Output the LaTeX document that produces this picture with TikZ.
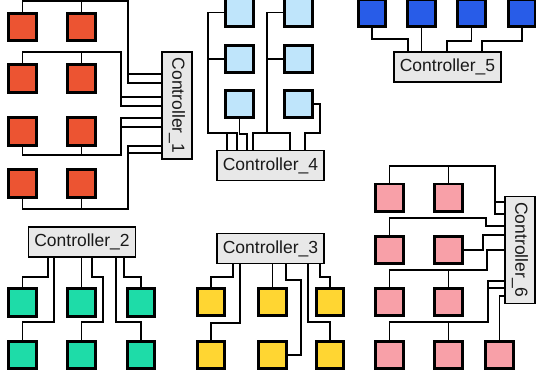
\documentclass[tikz,border=0pt]{standalone}
\usepackage{fontspec}
\usepackage{graphicx}
\setmainfont{Liberation Sans}
\definecolor{ctrlgray}{RGB}{232,232,232}
\definecolor{corange}{RGB}{236,84,50}
\definecolor{clblue}{RGB}{191,229,251}
\definecolor{cblue}{RGB}{40,92,232}
\definecolor{cgreen}{RGB}{30,220,168}
\definecolor{cyellow}{RGB}{255,214,50}
\definecolor{cpink}{RGB}{248,160,168}
\definecolor{ctext}{RGB}{25,25,25}
\begin{document}
\begin{tikzpicture}[x=1pt,y=-1pt,
  sq/.style={draw=black,line width=2.9pt,minimum size=27.6pt,inner sep=0pt,fill=#1},
  ctrl/.style={draw=black,line width=1.8pt,fill=ctrlgray,minimum width=107pt,minimum height=30pt,inner sep=0pt,text=ctext,font=\fontsize{17.5}{20}\selectfont},
  vctrl/.style={ctrl,minimum width=30pt,minimum height=107pt},
  wire/.style={draw=black,line width=1.5pt}]
\useasboundingbox (0,0) rectangle (536,379);

% Group 1 (orange)
\foreach \r/\yy in {1/27,2/78.7,3/131.7,4/183.3}{
  \node[sq=corange] (o\r1) at (22.5,\yy) {};
  \node[sq=corange] (o\r2) at (81.7,\yy) {};
}
\node[vctrl] (c1) at (177,105.5) {\rotatebox{-90}{Controller\_1}};

% Group 4 (light blue)
\foreach \r/\yy in {1/12.5,2/59,3/104}{
  \node[sq=clblue] (b\r1) at (239.5,\yy) {};
  \node[sq=clblue] (b\r2) at (298.3,\yy) {};
}
\node[ctrl] (c4) at (270.5,165.5) {Controller\_4};

% Group 5 (blue)
\node[sq=cblue] (s1) at (372,13) {};
\node[sq=cblue] (s2) at (421.5,13) {};
\node[sq=cblue] (s3) at (471.5,13) {};
\node[sq=cblue] (s4) at (522,13) {};
\node[ctrl] (c5) at (447.5,67) {Controller\_5};

% Group 2 (green)
\foreach \r/\yy in {1/302.5,2/355}{
  \node[sq=cgreen] (g\r1) at (22.5,\yy) {};
  \node[sq=cgreen] (g\r2) at (81.7,\yy) {};
  \node[sq=cgreen] (g\r3) at (141,\yy) {};
}
\node[ctrl] (c2) at (82,242) {Controller\_2};

% Group 3 (yellow)
\foreach \r/\yy in {1/302,2/355}{
  \node[sq=cyellow] (k\r1) at (211,\yy) {};
  \node[sq=cyellow] (k\r2) at (272.3,\yy) {};
  \node[sq=cyellow] (k\r3) at (330,\yy) {};
}
\node[ctrl] (c3) at (270.5,248.5) {Controller\_3};

% Group 6 (pink)
\foreach \r/\yy in {1/197.8,2/250,3/302,4/355}{
  \node[sq=cpink] (p\r1) at (389.5,\yy) {};
  \node[sq=cpink] (p\r2) at (448.7,\yy) {};
}
\node[sq=cpink] (p43) at (499.5,355) {};
\node[vctrl] (c6) at (520,250) {\rotatebox{-90}{Controller\_6}};

% Wires group 1
\draw[wire] (o11.north) |- (128,0.8) |- (c1.west |- 0,83);
\draw[wire] (o12.north) |- (128,0.8) |- (c1.west |- 0,74);
\draw[wire] (o21.north) |- (121,52) |- (c1.west |- 0,97);
\draw[wire] (o22.north) |- (121,52) |- (c1.west |- 0,106);
\draw[wire] (o31.south) |- (121,155) |- (c1.west |- 0,127);
\draw[wire] (o32.south) |- (121,155) |- (c1.west |- 0,118);
\draw[wire] (o41.south) |- (128,209) |- (c1.west |- 0,153);
\draw[wire] (o42.south) |- (128,209) |- (c1.west |- 0,146);

% Wires group 4
\draw[wire] (b11.west) -| (208,133) -| (c4.north -| 227,0);
\draw[wire] (b21.west) -| (208,133) -| (c4.north -| 237,0);
\draw[wire] (b31.south) |- (247,134) -- (c4.north -| 247,0);
\draw[wire] (b12.west) -| (267,133) -| (c4.north -| 253,0);
\draw[wire] (b22.west) -| (267,133) -| (c4.north -| 290,0);
\draw[wire] (b32.east) -| (320,133) -| (c4.north -| 305,0);

% Wires group 5
\draw[wire] (s1.south) |- (408,39) -- (c5.north -| 408,0);
\draw[wire] (s2.south) -- (c5.north -| s2.south);
\draw[wire] (s3.south) |- (447,41) -- (c5.north -| 447,0);
\draw[wire] (s4.south) |- (482,41) -- (c5.north -| 482,0);

% Wires group 2
\draw[wire] (c2.south -| 48,0) |- (g11.north |- 0,277) -- (g11.north);
\draw[wire] (c2.south -| 54,0) |- (g21.north |- 0,322) -- (g21.north);
\draw[wire] (c2.south -| g12.north) -- (g12.north);
\draw[wire] (c2.south -| 92,0) |- (103,277) |- (g22.north |- 0,322) -- (g22.north);
\draw[wire] (c2.south -| 116,0) |- (g23.north |- 0,322) -- (g23.north);
\draw[wire] (c2.south -| 124,0) |- (g13.north |- 0,277) -- (g13.north);

% Wires group 3
\draw[wire] (c3.south -| 233,0) |- (k11.north |- 0,277) -- (k11.north);
\draw[wire] (c3.south -| 240,0) |- (k21.north |- 0,323) -- (k21.north);
\draw[wire] (c3.south -| k12.north) -- (k12.north);
\draw[wire] (c3.south -| 286,0) |- (301,280) |- (k22.east);
\draw[wire] (c3.south -| 308,0) |- (k23.north |- 0,322) -- (k23.north);
\draw[wire] (c3.south -| 320,0) |- (k13.north |- 0,277) -- (k13.north);

% Wires group 6
\draw[wire] (p11.north) |- (495,166) |- (c6.west |- 0,214);
\draw[wire] (p12.north) |- (495,166) |- (c6.west |- 0,202);
\draw[wire] (p21.north) |- (486,218) |- (c6.west |- 0,226);
\draw[wire] (p22.east) -| (483,235) -- (c6.west |- 0,235);
\draw[wire] (p31.north) |- (487,270) |- (c6.west |- 0,250);
\draw[wire] (p32.north) |- (487,270) |- (c6.west |- 0,250);
\draw[wire] (p41.north) |- (488,322) |- (c6.west |- 0,288);
\draw[wire] (p42.north) |- (488,322) |- (c6.west |- 0,281);
\draw[wire] (p43.north) |- (c6.west |- 0,296);
\end{tikzpicture}
\end{document}
